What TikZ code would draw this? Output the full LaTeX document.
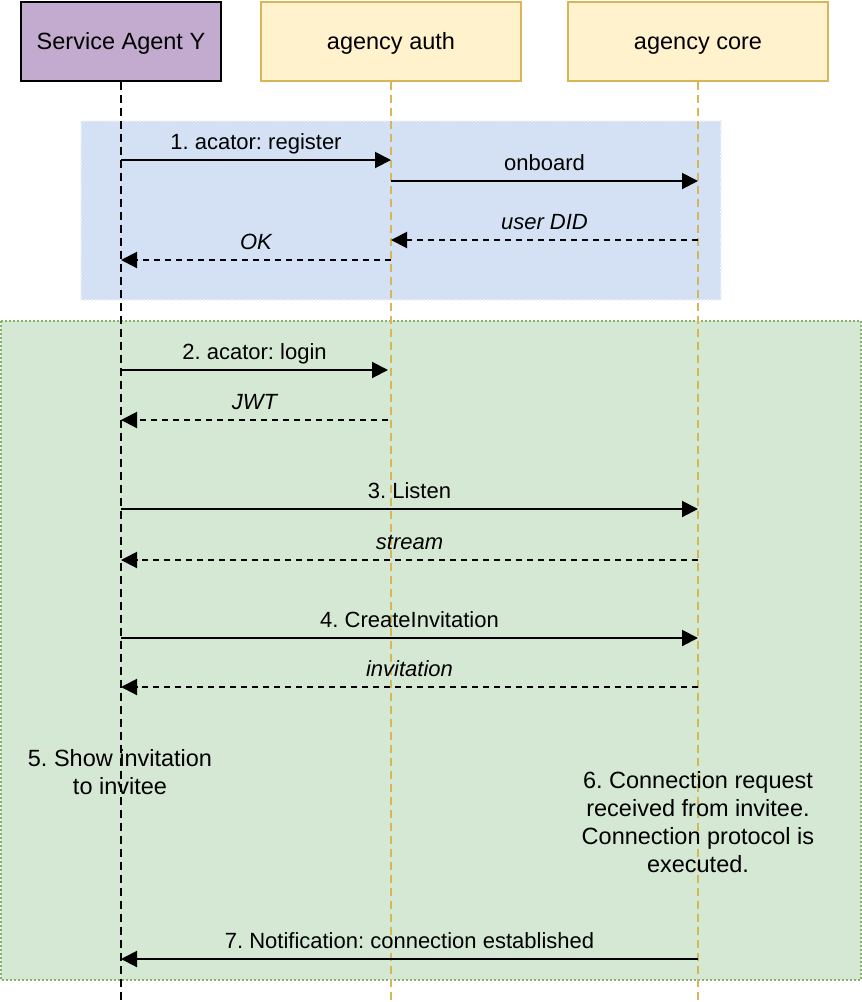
\documentclass[tikz,border=0pt]{standalone}
\usepackage{fontspec}
\setmainfont{Liberation Sans}
\usetikzlibrary{arrows.meta}
\definecolor{purplefill}{HTML}{C3ABD0}
\definecolor{yelfill}{HTML}{FFF2CC}
\definecolor{yeldraw}{HTML}{D6B656}
\definecolor{bluefill}{HTML}{D4E1F5}
\definecolor{blueedge}{HTML}{EEF3FB}
\definecolor{greenfill}{HTML}{D5E8D4}
\definecolor{greendraw}{HTML}{82B366}
\frenchspacing
\begin{document}
\frenchspacing
\begin{tikzpicture}[x=1pt,y=-1pt,
  txt/.style={font=\fontsize{22}{28}\selectfont},
  bigtxt/.style={font=\fontsize{23.5}{28}\selectfont},
  actorbox/.style={bigtxt, draw, line width=2pt, minimum height=79pt, inner sep=0pt, text height=17pt, text depth=0pt},
  life/.style={line width=2pt, dash pattern=on 8pt off 5pt},
  msg/.style={line width=2pt, -{Triangle[length=16pt,width=16pt]}},
  ret/.style={msg, dash pattern=on 6pt off 5pt},
  lbl/.style={txt, midway, anchor=base, yshift=11pt, inner sep=0pt},
  note/.style={bigtxt, align=center, inner sep=0pt}
]
\useasboundingbox (0,0) rectangle (862,1002);
% regions
\fill[white] (0,0) rectangle (862,1002);
\draw[fill=bluefill, draw=blueedge, line width=1.5pt, dotted] (81,121) rectangle (721,300);
\draw[fill=greenfill, draw=greendraw, line width=2pt, dotted] (1,321) rectangle (861,980);
% actors
\node[actorbox, fill=purplefill, draw=black, minimum width=200pt] (sa) at (121,41) {Service Agent Y};
\node[actorbox, fill=yelfill, draw=yeldraw, minimum width=260pt] (auth) at (391,41) {agency auth};
\node[actorbox, fill=yelfill, draw=yeldraw, minimum width=260pt] (core) at (698,41) {agency core};
% lifelines
\coordinate (saend) at (121,1002);
\coordinate (authend) at (391,1002);
\coordinate (coreend) at (698,1002);
\draw[life, black] (sa.south) -- (saend);
\draw[life, yeldraw] (auth.south) -- (authend);
\draw[life, yeldraw] (core.south) -- (coreend);
% messages
\draw[msg] (sa.south |- 0,160) -- (auth.south |- 0,160) node[lbl] {1. acator: register};
\draw[msg] (auth.south |- 0,181) -- (core.south |- 0,181) node[lbl] {onboard};
\draw[ret] (core.south |- 0,240) -- (auth.south |- 0,240) node[lbl] {\itshape user DID};
\draw[ret] (auth.south |- 0,260) -- (sa.south |- 0,260) node[lbl] {\itshape OK};
\draw[msg] (sa.south |- 0,370) -- ([xshift=-3pt]auth.south |- 0,370) node[lbl] {2. acator: login};
\draw[ret] ([xshift=-3pt]auth.south |- 0,420) -- (sa.south |- 0,420) node[lbl] {\itshape JWT};
\draw[msg] (sa.south |- 0,509) -- (core.south |- 0,509) node[lbl] {3. Listen};
\draw[ret] (core.south |- 0,560) -- (sa.south |- 0,560) node[lbl] {\itshape stream};
\draw[msg] (sa.south |- 0,638) -- (core.south |- 0,638) node[lbl] {4. CreateInvitation};
\draw[ret] (core.south |- 0,687) -- (sa.south |- 0,687) node[lbl] {\itshape invitation};
\node[note] (show) at (120,772) {5. Show invitation\\to invitee};
\node[note] (conn) at (698,822) {6. Connection request\\received from invitee.\\Connection protocol is\\executed.};
\draw[msg] (core.south |- 0,959) -- (sa.south |- 0,959) node[lbl] {7. Notification: connection established};
\end{tikzpicture}
\end{document}
